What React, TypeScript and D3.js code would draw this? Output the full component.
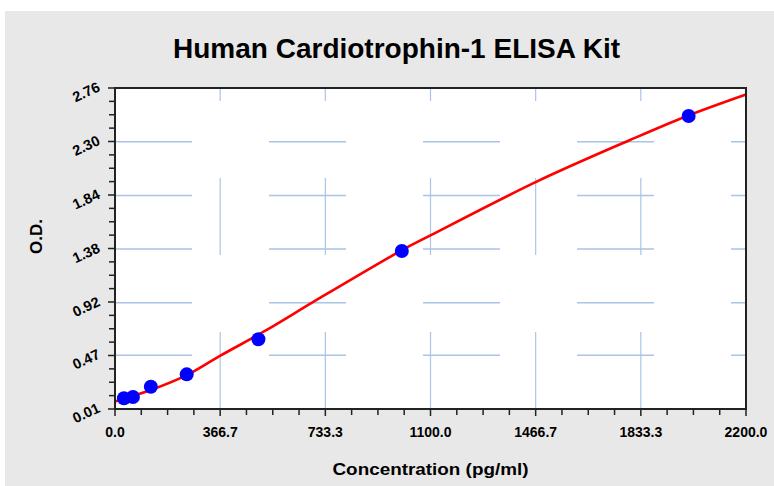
import { useEffect, useRef } from 'react';
import * as d3 from 'd3';

// standards (pg/ml) and measured O.D.
const CONC = [31.25, 62.5, 125, 250, 500, 1000, 2000];
const OD = [0.102, 0.113, 0.201, 0.307, 0.607, 1.364, 2.52];

// fitted curve
const CURVE_X = [0, 122, 250, 366, 529, 703, 1000, 1098, 1470, 1796, 1999, 2200];
const CURVE_Y = [0.075, 0.17, 0.3, 0.465, 0.687, 0.944, 1.37, 1.495, 1.958, 2.315, 2.525, 2.705];

const X_TICKS = [0, 366.7, 733.3, 1100, 1466.7, 1833.3, 2200];
const Y_TICKS = [0.01, 0.47, 0.92, 1.38, 1.84, 2.3, 2.76];

export default function App() {
  const svgRef = useRef<SVGSVGElement>(null);

  useEffect(() => {
    const el = svgRef.current;
    if (!el) return;
    const svg = d3.select(el);
    svg.selectAll('*').remove();

    const W = 774;
    const H = 486;
    const margin = { top: 88, right: 28, bottom: 77, left: 115 };
    const iW = W - margin.left - margin.right;
    const iH = H - margin.top - margin.bottom;
    const font = "'Liberation Sans', Arial, sans-serif";

    svg.append('rect').attr('x', 5).attr('y', 11).attr('width', W - 5).attr('height', H - 11).attr('fill', '#e8e8e8');

    svg.append('text')
      .attr('x', 396.5).attr('y', 58)
      .attr('text-anchor', 'middle')
      .attr('font-family', font)
      .attr('font-weight', 'bold').attr('font-size', '28px')
      .attr('textLength', 447).attr('lengthAdjust', 'spacingAndGlyphs')
      .text('Human Cardiotrophin-1 ELISA Kit');

    const g = svg.append('g').attr('transform', `translate(${margin.left},${margin.top})`);
    g.append('rect').attr('width', iW).attr('height', iH).attr('fill', '#ffffff');

    const x = d3.scaleLinear().domain([0, 2200]).range([0, iW]);
    const y = d3.scaleLinear().domain([0.01, 2.76]).range([iH, 0]);

    // dashed grid, dashes start at the origin
    g.selectAll('.hgrid').data(Y_TICKS.slice(1, -1)).join('line')
      .attr('x1', 0).attr('x2', iW)
      .attr('y1', (d) => y(d)).attr('y2', (d) => y(d))
      .attr('stroke', '#a9c4e6').attr('stroke-width', 1.5)
      .attr('stroke-dasharray', '77,77');
    g.selectAll('.vgrid').data(X_TICKS.slice(1, -1)).join('line')
      .attr('x1', (d) => x(d)).attr('x2', (d) => x(d))
      .attr('y1', iH).attr('y2', 0)
      .attr('stroke', '#a9c4e6').attr('stroke-width', 1.2)
      .attr('stroke-dasharray', '77,77');

    // curve
    const line = d3.line<number>()
      .x((_, i) => x(CURVE_X[i]))
      .y((d) => y(d))
      .curve(d3.curveCatmullRom.alpha(0.5));
    g.append('path').datum(CURVE_Y)
      .attr('d', line)
      .attr('fill', 'none').attr('stroke', '#ff0000').attr('stroke-width', 2.6);

    // points
    g.selectAll('.pt').data(CONC).join('circle')
      .attr('cx', (d) => x(d))
      .attr('cy', (_, i) => y(OD[i]))
      .attr('r', 7)
      .attr('fill', '#0000ff');

    // frame
    g.append('rect').attr('width', iW).attr('height', iH)
      .attr('fill', 'none').attr('stroke', '#222').attr('stroke-width', 2);

    // ticks
    const xMinor = d3.range(0, 25).map((i) => (2200 / 24) * i);
    g.selectAll('.xt').data(xMinor).join('line')
      .attr('x1', (d) => x(d)).attr('x2', (d) => x(d))
      .attr('y1', iH).attr('y2', (_, i) => iH + (i % 4 === 0 ? 7 : 6))
      .attr('stroke', '#222').attr('stroke-width', 1.5);
    const yMinor = d3.range(0, 25).map((i) => 0.01 + (2.75 / 24) * i);
    g.selectAll('.yt').data(yMinor).join('line')
      .attr('y1', (d) => y(d)).attr('y2', (d) => y(d))
      .attr('x1', 0).attr('x2', (_, i) => -(i % 4 === 0 ? 7 : 6))
      .attr('stroke', '#222').attr('stroke-width', 1.5);

    g.selectAll('.xl').data(X_TICKS).join('text')
      .attr('x', (d) => x(d)).attr('y', iH + 28)
      .attr('text-anchor', 'middle')
      .attr('font-family', font)
      .attr('font-weight', 'bold').attr('font-size', '14px')
      .text((d) => d.toFixed(1));

    g.selectAll('.yl').data(Y_TICKS).join('text')
      .attr('transform', (d) => `translate(-14,${y(d) + 2.5}) rotate(-25)`)
      .attr('text-anchor', 'end')
      .attr('font-family', font)
      .attr('font-weight', 'bold').attr('font-size', '14.5px')
      .text((d) => d.toFixed(2));

    g.append('text')
      .attr('x', iW / 2).attr('y', iH + 66)
      .attr('text-anchor', 'middle')
      .attr('font-family', font)
      .attr('font-weight', 'bold').attr('font-size', '17px')
      .attr('textLength', 196).attr('lengthAdjust', 'spacingAndGlyphs')
      .text('Concentration (pg/ml)');

    g.append('text')
      .attr('transform', `translate(-73,${iH / 2 - 12}) rotate(-90)`)
      .attr('text-anchor', 'middle')
      .attr('font-family', font)
      .attr('font-weight', 'bold').attr('font-size', '17px')
      .text('O.D.');
  }, []);

  return (
    <svg ref={svgRef} width={774} height={486}
      style={{ position: 'absolute', left: 0, top: 0, display: 'block' }} />
  );
}
